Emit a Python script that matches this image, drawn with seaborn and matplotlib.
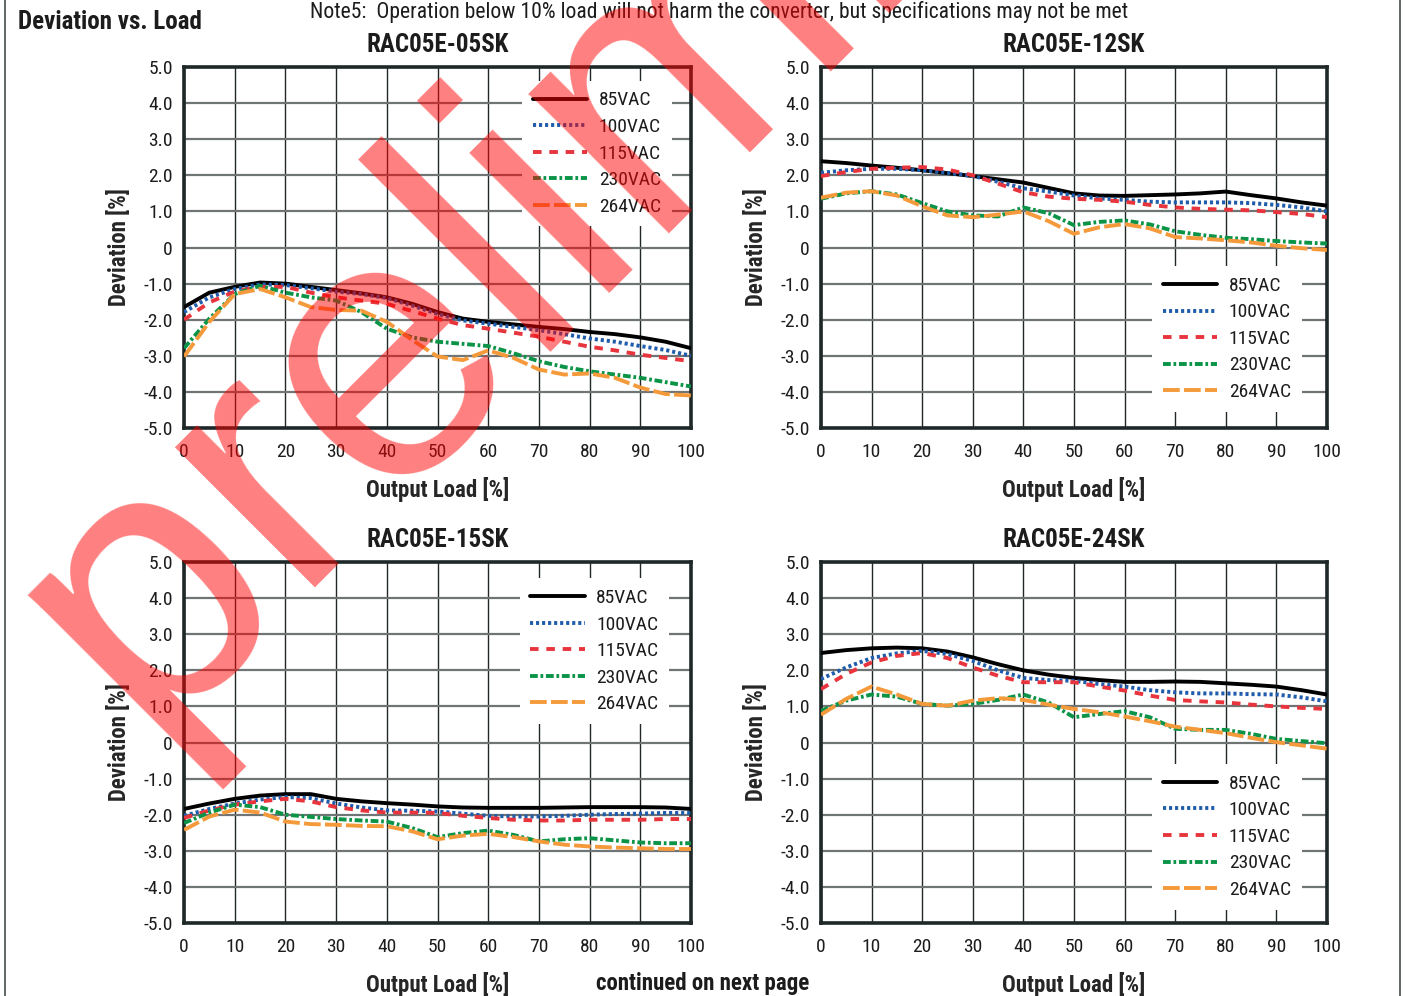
import seaborn as sns
import matplotlib.pyplot as plt
from matplotlib import font_manager
from matplotlib.lines import Line2D

# output load in %, read every 5 %
load = list(range(0, 101, 5))
voltages = ["85VAC", "100VAC", "115VAC", "230VAC", "264VAC"]

# RAC05E-05SK
sk05_85 = [-1.65, -1.25, -1.09, -0.97, -1.00, -1.09, -1.18, -1.27, -1.38, -1.56, -1.79,
           -1.97, -2.06, -2.13, -2.20, -2.26, -2.34, -2.40, -2.49, -2.61, -2.79]
sk05_100 = [-1.79, -1.38, -1.15, -1.02, -1.04, -1.13, -1.22, -1.29, -1.40, -1.61, -1.84,
            -2.02, -2.11, -2.20, -2.29, -2.40, -2.52, -2.61, -2.73, -2.84, -3.00]
sk05_115 = [-2.00, -1.52, -1.22, -1.09, -1.09, -1.25, -1.38, -1.47, -1.56, -1.76, -1.97,
            -2.15, -2.25, -2.36, -2.47, -2.61, -2.75, -2.85, -2.97, -3.06, -3.15]
sk05_230 = [-2.79, -1.97, -1.29, -1.06, -1.25, -1.38, -1.47, -1.79, -2.25, -2.49, -2.61,
            -2.67, -2.73, -2.93, -3.15, -3.31, -3.43, -3.52, -3.61, -3.73, -3.85]
sk05_264 = [-3.02, -2.06, -1.29, -1.15, -1.38, -1.65, -1.73, -1.75, -2.06, -2.56, -3.02,
            -3.12, -2.85, -3.06, -3.38, -3.52, -3.49, -3.61, -3.88, -4.06, -4.10]

# RAC05E-12SK
sk12_85 = [2.39, 2.34, 2.27, 2.21, 2.14, 2.06, 1.98, 1.89, 1.80, 1.65, 1.50,
           1.44, 1.43, 1.45, 1.47, 1.50, 1.55, 1.45, 1.36, 1.25, 1.16]
sk12_100 = [2.07, 2.14, 2.18, 2.18, 2.14, 2.07, 1.98, 1.82, 1.64, 1.55, 1.44,
            1.36, 1.32, 1.27, 1.25, 1.25, 1.25, 1.23, 1.18, 1.11, 1.00]
sk12_115 = [1.98, 2.09, 2.18, 2.21, 2.23, 2.16, 2.00, 1.77, 1.53, 1.41, 1.35,
            1.32, 1.27, 1.18, 1.11, 1.07, 1.05, 1.03, 0.98, 0.93, 0.84]
sk12_230 = [1.35, 1.50, 1.56, 1.47, 1.23, 1.00, 0.89, 0.86, 1.11, 0.95, 0.62,
            0.71, 0.75, 0.64, 0.45, 0.35, 0.27, 0.23, 0.18, 0.14, 0.11]
sk12_264 = [1.38, 1.52, 1.56, 1.44, 1.14, 0.89, 0.84, 0.91, 1.00, 0.73, 0.38,
            0.56, 0.65, 0.53, 0.29, 0.25, 0.20, 0.14, 0.05, -0.02, -0.07]

# RAC05E-15SK
sk15_85 = [-1.84, -1.69, -1.56, -1.47, -1.43, -1.43, -1.56, -1.63, -1.68, -1.72, -1.77,
           -1.80, -1.81, -1.81, -1.81, -1.80, -1.79, -1.79, -1.79, -1.80, -1.84]
sk15_100 = [-2.03, -1.84, -1.69, -1.58, -1.51, -1.54, -1.69, -1.80, -1.88, -1.89, -1.91,
            -1.97, -2.03, -2.05, -2.05, -2.03, -2.00, -1.98, -1.97, -1.95, -1.95]
sk15_115 = [-2.09, -1.88, -1.72, -1.63, -1.56, -1.63, -1.79, -1.88, -1.94, -1.94, -1.95,
            -2.03, -2.09, -2.14, -2.16, -2.16, -2.14, -2.14, -2.14, -2.12, -2.12]
sk15_230 = [-2.23, -1.94, -1.72, -1.79, -2.00, -2.06, -2.12, -2.16, -2.19, -2.37, -2.62,
            -2.51, -2.44, -2.56, -2.74, -2.68, -2.65, -2.71, -2.77, -2.79, -2.79]
sk15_264 = [-2.42, -2.05, -1.86, -1.94, -2.19, -2.26, -2.28, -2.31, -2.32, -2.46, -2.68,
            -2.58, -2.53, -2.62, -2.74, -2.83, -2.88, -2.91, -2.93, -2.95, -2.95]

# RAC05E-24SK
sk24_85 = [2.48, 2.56, 2.61, 2.63, 2.61, 2.52, 2.36, 2.17, 2.00, 1.88, 1.79,
           1.73, 1.68, 1.68, 1.69, 1.68, 1.64, 1.60, 1.55, 1.45, 1.33]
sk24_100 = [1.76, 2.08, 2.34, 2.47, 2.54, 2.45, 2.26, 2.00, 1.79, 1.73, 1.71,
            1.62, 1.55, 1.45, 1.39, 1.36, 1.36, 1.34, 1.33, 1.25, 1.14]
sk24_115 = [1.48, 1.90, 2.22, 2.40, 2.48, 2.34, 2.08, 1.85, 1.67, 1.67, 1.67,
            1.55, 1.44, 1.30, 1.18, 1.14, 1.11, 1.05, 1.00, 0.96, 0.93]
sk24_230 = [0.88, 1.16, 1.33, 1.27, 1.07, 1.02, 1.07, 1.18, 1.33, 1.11, 0.70,
            0.79, 0.87, 0.70, 0.38, 0.35, 0.35, 0.24, 0.10, 0.04, -0.02]
sk24_264 = [0.77, 1.21, 1.55, 1.33, 1.07, 1.02, 1.16, 1.23, 1.18, 1.05, 0.93,
            0.84, 0.72, 0.59, 0.44, 0.35, 0.26, 0.13, 0.01, -0.08, -0.17]

x_ticks = list(range(0, 101, 10))
y_ticks = [5, 4, 3, 2, 1, 0, -1, -2, -3, -4, -5]
y_tick_labels = ["5.0", "4.0", "3.0", "2.0", "1.0", "0", "-1.0", "-2.0", "-3.0", "-4.0", "-5.0"]

colors = ["#000000", "#1f5cab", "#e8343c", "#0b9447", "#f59a3b"]
styles = ["-", (0, (0.8, 0.75)), (0, (2.2, 2.0)), (0, (2.0, 0.7, 0.7, 0.7)), (0, (4.3, 1.1))]

sns.set_style("white")
names = {f.name for f in font_manager.fontManager.ttflist}
narrow = next((n for n in ["Liberation Sans Narrow", "Roboto Condensed"] if n in names), "DejaVu Sans")
plt.rcParams["font.family"] = [narrow, "DejaVu Sans"]
plt.rcParams["text.color"] = "#1c1c1c"

fig = plt.figure(figsize=(14.05, 9.96), dpi=100)

panels = [
    ("RAC05E-05SK", [sk05_85, sk05_100, sk05_115, sk05_230, sk05_264],
     [0.131, 0.5703, 0.3608, 0.3624], "upper right", (0.962, 0.962)),
    ("RAC05E-12SK", [sk12_85, sk12_100, sk12_115, sk12_230, sk12_264],
     [0.5843, 0.5703, 0.3601, 0.3624], "lower right", (0.95, 0.045)),
    ("RAC05E-15SK", [sk15_85, sk15_100, sk15_115, sk15_230, sk15_264],
     [0.131, 0.0733, 0.3608, 0.3624], "upper right", (0.957, 0.955)),
    ("RAC05E-24SK", [sk24_85, sk24_100, sk24_115, sk24_230, sk24_264],
     [0.5843, 0.0733, 0.3601, 0.3624], "lower right", (0.95, 0.037)),
]

for title, series, rect, loc, anchor in panels:
    ax = fig.add_axes(rect)
    for name, vals, col, ls in zip(voltages, series, colors, styles):
        sns.lineplot(x=load, y=vals, ax=ax, color=col, linestyle=ls, linewidth=2.8,
                     label=name, zorder=3)
    ax.set_xlim(0, 100)
    ax.set_ylim(-5, 5)
    ax.set_xticks(x_ticks)
    ax.set_xticklabels([str(t) for t in x_ticks])
    ax.set_yticks(y_ticks)
    ax.set_yticklabels(y_tick_labels)
    ax.tick_params(length=0, labelsize=14, colors="#1c1c1c")
    ax.tick_params(axis="x", pad=11)
    ax.tick_params(axis="y", pad=8)
    ax.set_axisbelow(True)
    ax.xaxis.grid(True, color="#222828", linewidth=1.0)
    ax.yaxis.grid(True, color="#6f7575", linewidth=1.6)
    for sp in ax.spines.values():
        sp.set_color("#1e2828")
        sp.set_linewidth(2.6)
    ax.set_title(title, fontsize=18, fontweight="bold", pad=11)
    ax.set_xlabel("Output Load [%]", fontsize=16.5, fontweight="bold", labelpad=11)
    ax.set_ylabel("Deviation [%]", fontsize=16.5, fontweight="bold", labelpad=9)
    leg = ax.legend(loc=loc, bbox_to_anchor=anchor, borderaxespad=0, frameon=True,
                    fancybox=False, edgecolor="none", facecolor="white", framealpha=1,
                    fontsize=14, handlelength=2.8, handletextpad=0.6, labelspacing=0.44,
                    borderpad=0.55)
    leg.set_zorder(5)

fig.text(0.0128, 0.978, "Deviation vs. Load", fontsize=18, fontweight="bold", va="center")
fig.text(0.512, 0.999, "Note5:  Operation below 10% load will not harm the converter, "
         "but specifications may not be met", fontsize=15.6, ha="center", va="top")
fig.text(0.5, 0.0065, "continued on next page", fontsize=16.5, fontweight="bold",
         ha="center", va="baseline")

# page frame lines
fig.add_artist(Line2D([0.0036, 0.0036], [0, 1], color="#555a5a", linewidth=1.3))
fig.add_artist(Line2D([0.9964, 0.9964], [0, 1], color="#555a5a", linewidth=1.3))

# watermark
fig.text(0.1025, 0.262, "preliminary", rotation=45, rotation_mode="anchor",
         ha="left", va="baseline", fontsize=270, family=["Liberation Sans", "DejaVu Sans"],
         color="red", alpha=0.5, zorder=10)

fig.savefig("out.png", dpi=100)
